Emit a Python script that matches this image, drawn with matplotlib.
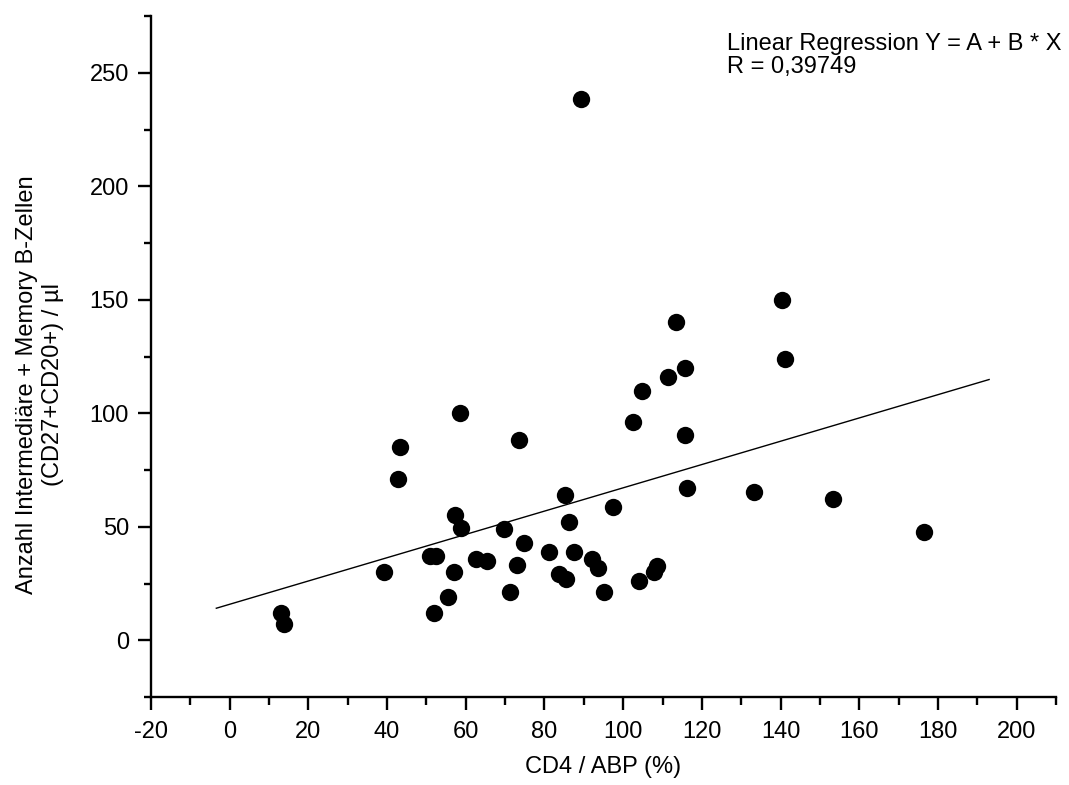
import matplotlib
matplotlib.use('Agg')
import matplotlib.pyplot as plt
from matplotlib.ticker import MultipleLocator
import numpy as np

plt.rcParams['font.family'] = ['Liberation Sans', 'DejaVu Sans']
plt.rcParams['axes.unicode_minus'] = False

# ── Daten ────────────────────────────────────────────────────────
cd4_abp = [13.1, 13.9, 39.1, 43.2, 42.9, 50.8, 52.5, 52.0, 55.5, 57.1,
           57.3, 58.9, 58.6, 62.5, 65.5, 69.6, 71.3, 72.9, 73.6, 74.9,
           81.2, 83.7, 85.5, 85.1, 86.2, 87.6, 89.3, 92.0, 93.5, 95.0,
           97.3, 102.6, 104.0, 104.7, 107.8, 108.6, 111.5, 113.3, 115.7, 115.7,
           116.1, 133.2, 140.4, 141.0, 153.2, 176.5]
b_cells = [12.2, 7.0, 30.1, 85.1, 71.0, 37.1, 37.1, 12.2, 19.1, 30.1,
           55.2, 49.6, 100.0, 36.0, 35.0, 49.1, 21.2, 33.2, 88.0, 43.0,
           38.9, 29.1, 26.9, 63.9, 52.2, 38.9, 238.3, 36.0, 31.9, 21.2,
           58.9, 96.2, 26.1, 110.0, 30.1, 32.5, 116.1, 140.2, 119.9, 90.2,
           66.9, 65.1, 149.8, 124.0, 62.1, 47.9]

# Regressionsgerade Y = A + B * X
fit_a = 15.85
fit_b = 0.513
fit_x = [-3.4, 193.0]
r_text = 'R = 0,39749'

FS = 17

fig = plt.figure(figsize=(10.69, 7.85), dpi=100, facecolor='white')
ax = fig.add_axes([151 / 1069, 1 - 697 / 785, 905 / 1069, 681 / 785])

ax.plot(cd4_abp, b_cells, 'o', color='black', markersize=12.5,
        markeredgewidth=0, zorder=3)
fx = np.array(fit_x)
ax.plot(fx, fit_a + fit_b * fx, color='black', linewidth=1.0, zorder=2)

ax.set_xlim(-20, 210)
ax.set_ylim(-25, 275)
ax.xaxis.set_major_locator(MultipleLocator(20))
ax.xaxis.set_minor_locator(MultipleLocator(10))
ax.yaxis.set_major_locator(MultipleLocator(50))
ax.yaxis.set_minor_locator(MultipleLocator(25))

for side in ('top', 'right'):
    ax.spines[side].set_visible(False)
for side in ('left', 'bottom'):
    ax.spines[side].set_linewidth(1.7)

ax.tick_params(which='major', direction='out', length=9.4, width=1.7,
               labelsize=FS)
ax.tick_params(which='minor', direction='out', length=5.4, width=1.7)
ax.tick_params(axis='x', which='major', pad=8)
ax.tick_params(axis='y', which='major', pad=6.5)

ax.set_xlabel('CD4 / ABP (%)', fontsize=FS, labelpad=9)
fig.text(40 / 1069, 1 - 385 / 785,
         'Anzahl Intermediäre + Memory B-Zellen\n(CD27+CD20+) / µl',
         rotation=90, ha='center', va='center', multialignment='center',
         fontsize=FS, linespacing=1.25)

ax.text(727 / 1069, 1 - 50 / 785, 'Linear Regression Y = A + B * X',
        transform=fig.transFigure, fontsize=FS, va='baseline', ha='left')
ax.text(727 / 1069, 1 - 73.5 / 785, r_text,
        transform=fig.transFigure, fontsize=FS, va='baseline', ha='left')

fig.savefig('out.png', dpi=100, facecolor='white')
